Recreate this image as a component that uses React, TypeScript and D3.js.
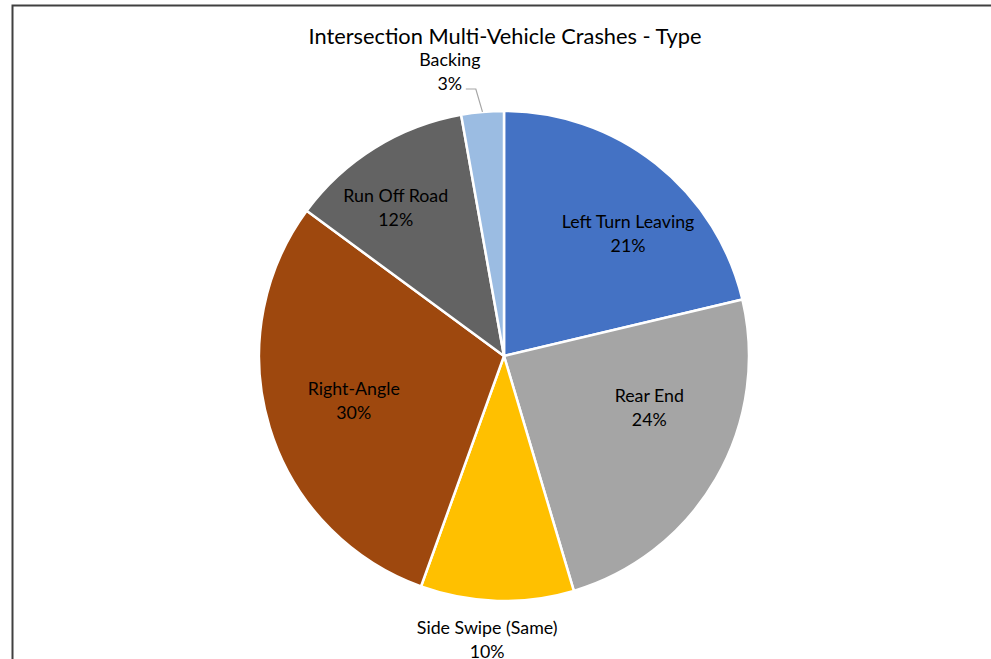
import React from "react";
import * as d3 from "d3";

const categories = ["Left Turn Leaving", "Rear End", "Side Swipe (Same)", "Right-Angle", "Run Off Road", "Backing"];
const values = [21.3, 24.1, 10.1, 29.6, 12.1, 2.8];
const colors = ["#4472C4", "#A5A5A5", "#FFC000", "#9E480E", "#636363", "#9BBCE2"];
// label placement: angle (deg clockwise from north), radius as fraction of pie radius
const labelAngles = [45.5, 109.7, 183.4, 253.4, 323.9, 349.2];
const labelRadii = [0.71, 0.63, 1.16, 0.64, 0.75, 1.18];
const title = "Intersection Multi-Vehicle Crashes - Type";

const W = 991;
const H = 659;
const cx = 504;
const cy = 356;
const R = 245;

export default function App() {
  const total = d3.sum(values);
  const pie = d3.pie<number>().sort(null).value((d) => d)(values);
  const arc = d3.arc<d3.PieArcDatum<number>>().innerRadius(0).outerRadius(R);
  const font = "Lato, 'Open Sans', sans-serif";
  const lineGap = 24;

  return (
    <svg width={W} height={H} style={{ position: "absolute", left: 0, top: 0 }} fontFamily={font}>
      <rect x={0} y={0} width={W} height={H} fill="#fff" />
      <path d={`M12.5,${H + 5} L12.5,5.5 L${W + 5},5.5`} fill="none" stroke="#404040" strokeWidth={2} />
      <text x={505} y={44} textAnchor="middle" fontSize={21.8} fill="#000">{title}</text>
      <g transform={`translate(${cx},${cy})`}>
        {pie.map((p, i) => (
          <path key={i} d={arc(p) || ""} fill={colors[i]} stroke="#fff" strokeWidth={2.5} strokeLinejoin="round" />
        ))}
        {pie.map((p, i) => {
          const a = (labelAngles[i] * Math.PI) / 180;
          const r = labelRadii[i] * R;
          const x = Math.sin(a) * r;
          const y = -Math.cos(a) * r;
          const pct = Math.round((values[i] / total) * 100) + "%";
          return (
            <text key={"l" + i} x={x} y={y} textAnchor="middle" fontSize={17.8} fill="#000">
              <tspan x={x} dy={-lineGap / 2 + 6}>{categories[i]}</tspan>
              <tspan x={x} dy={lineGap}>{pct}</tspan>
            </text>
          );
        })}
        {(() => {
          const i = 5;
          const mid = (pie[i].startAngle + pie[i].endAngle) / 2;
          const ex = Math.sin(mid) * R;
          const ey = -Math.cos(mid) * R;
          const a = (labelAngles[i] * Math.PI) / 180;
          const r = labelRadii[i] * R;
          const lx = Math.sin(a) * r;
          const ly = -Math.cos(a) * r + lineGap / 2;
          return (
            <polyline
              points={`${lx + 16},${ly + 5} ${lx + 26},${ly + 5} ${ex},${ey}`}
              fill="none"
              stroke="#A6A6A6"
              strokeWidth={1.2}
            />
          );
        })()}
      </g>
    </svg>
  );
}
